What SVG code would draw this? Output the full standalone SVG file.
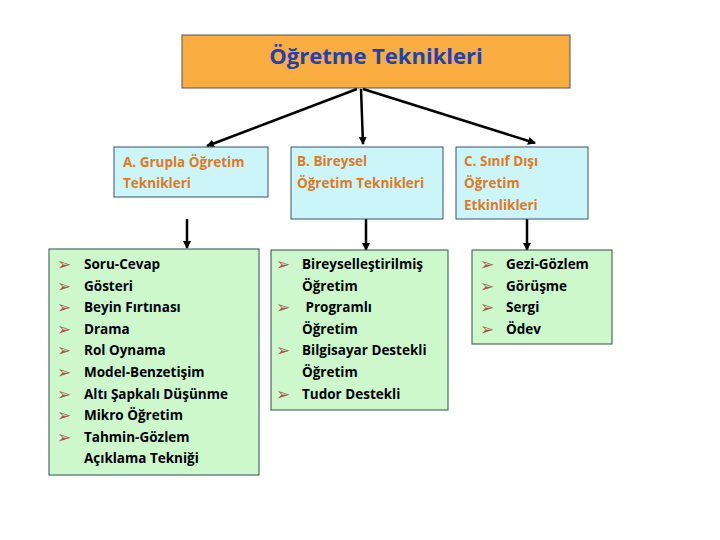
<svg xmlns="http://www.w3.org/2000/svg" width="720" height="540" viewBox="0 0 720 540">
<defs>
<marker id="ah" markerWidth="8" markerHeight="8" refX="7" refY="4" orient="auto" markerUnits="userSpaceOnUse">
<path d="M0,0 L8,4 L0,8 Z" fill="#000"/>
</marker>
<style>
.hdr{fill:#CCF5FA;stroke:#3A5566;stroke-width:1}
.lst{fill:#CCF8CC;stroke:#2F4F4F;stroke-width:1}
.ht{font-family:"Open Sans","Liberation Sans",sans-serif;font-weight:bold;font-size:13.5px;fill:#E07A22}
.it{font-family:"Open Sans","Liberation Sans",sans-serif;font-weight:bold;font-size:13.5px;fill:#000}
.bu{font-family:"DejaVu Sans",sans-serif;font-size:17px;fill:#A8584A}
.cn{stroke:#000;stroke-width:2.5;fill:none}
</style>
</defs>
<rect width="720" height="540" fill="#fff"/>
<g id="top">
<rect x="182" y="35" width="388" height="53" fill="#F9AC3F" stroke="#555" stroke-width="1"/>
<text x="376" y="64" text-anchor="middle" font-family="Open Sans, Liberation Sans, sans-serif" font-weight="bold" font-size="22" fill="#2142B0">Öğretme Teknikleri</text>
</g>
<g id="connectors">
<line class="cn" x1="357" y1="89" x2="207" y2="146" marker-end="url(#ah)"/>
<line class="cn" x1="361" y1="89" x2="363" y2="144" marker-end="url(#ah)"/>
<line class="cn" x1="363" y1="89" x2="535" y2="143" marker-end="url(#ah)"/>
<line class="cn" x1="187" y1="219" x2="187" y2="248" marker-end="url(#ah)"/>
<line class="cn" x1="366" y1="219" x2="366" y2="250" marker-end="url(#ah)"/>
<line class="cn" x1="527" y1="219" x2="527" y2="250" marker-end="url(#ah)"/>
</g>
<g id="hdrA">
<rect class="hdr" x="114" y="147" width="154" height="50"/>
<text class="ht" x="123" y="167">A. Grupla Öğretim</text>
<text class="ht" x="123" y="188">Teknikleri</text>
</g>
<g id="hdrB">
<rect class="hdr" x="291" y="147" width="152" height="72"/>
<text class="ht" x="297" y="166">B. Bireysel</text>
<text class="ht" x="297" y="188">Öğretim Teknikleri</text>
</g>
<g id="hdrC">
<rect class="hdr" x="456" y="147" width="132" height="72"/>
<text class="ht" x="464" y="166">C. Sınıf Dışı</text>
<text class="ht" x="464" y="188">Öğretim</text>
<text class="ht" x="464" y="210">Etkinlikleri</text>
</g>
<g id="listA">
<rect class="lst" x="49" y="249" width="210" height="226"/>
<text class="bu" x="57" y="270">➢</text><text class="it" x="84" y="269">Soru-Cevap</text>
<text class="bu" x="57" y="292">➢</text><text class="it" x="84" y="291">Gösteri</text>
<text class="bu" x="57" y="313">➢</text><text class="it" x="84" y="312">Beyin Fırtınası</text>
<text class="bu" x="57" y="335">➢</text><text class="it" x="84" y="334">Drama</text>
<text class="bu" x="57" y="356">➢</text><text class="it" x="84" y="355">Rol Oynama</text>
<text class="bu" x="57" y="378">➢</text><text class="it" x="84" y="377">Model-Benzetişim</text>
<text class="bu" x="57" y="400">➢</text><text class="it" x="84" y="399">Altı Şapkalı Düşünme</text>
<text class="bu" x="57" y="421">➢</text><text class="it" x="84" y="420">Mikro Öğretim</text>
<text class="bu" x="57" y="443">➢</text><text class="it" x="84" y="442">Tahmin-Gözlem</text>
<text class="it" x="84" y="463">Açıklama Tekniği</text>
</g>
<g id="listB">
<rect class="lst" x="271" y="250" width="177" height="160"/>
<text class="bu" x="276" y="270">➢</text><text class="it" x="302" y="269">Bireyselleştirilmiş</text>
<text class="it" x="302" y="291">Öğretim</text>
<text class="bu" x="276" y="313">➢</text><text class="it" x="302" y="312" xml:space="preserve"> Programlı</text>
<text class="it" x="302" y="334">Öğretim</text>
<text class="bu" x="276" y="356">➢</text><text class="it" x="302" y="355">Bilgisayar Destekli</text>
<text class="it" x="302" y="377">Öğretim</text>
<text class="bu" x="276" y="400">➢</text><text class="it" x="302" y="399">Tudor Destekli</text>
</g>
<g id="listC">
<rect class="lst" x="472" y="250" width="140" height="94"/>
<text class="bu" x="480" y="270">➢</text><text class="it" x="506" y="269">Gezi-Gözlem</text>
<text class="bu" x="480" y="292">➢</text><text class="it" x="506" y="291">Görüşme</text>
<text class="bu" x="480" y="313">➢</text><text class="it" x="506" y="312">Sergi</text>
<text class="bu" x="480" y="335">➢</text><text class="it" x="506" y="334">Ödev</text>
</g>
</svg>
